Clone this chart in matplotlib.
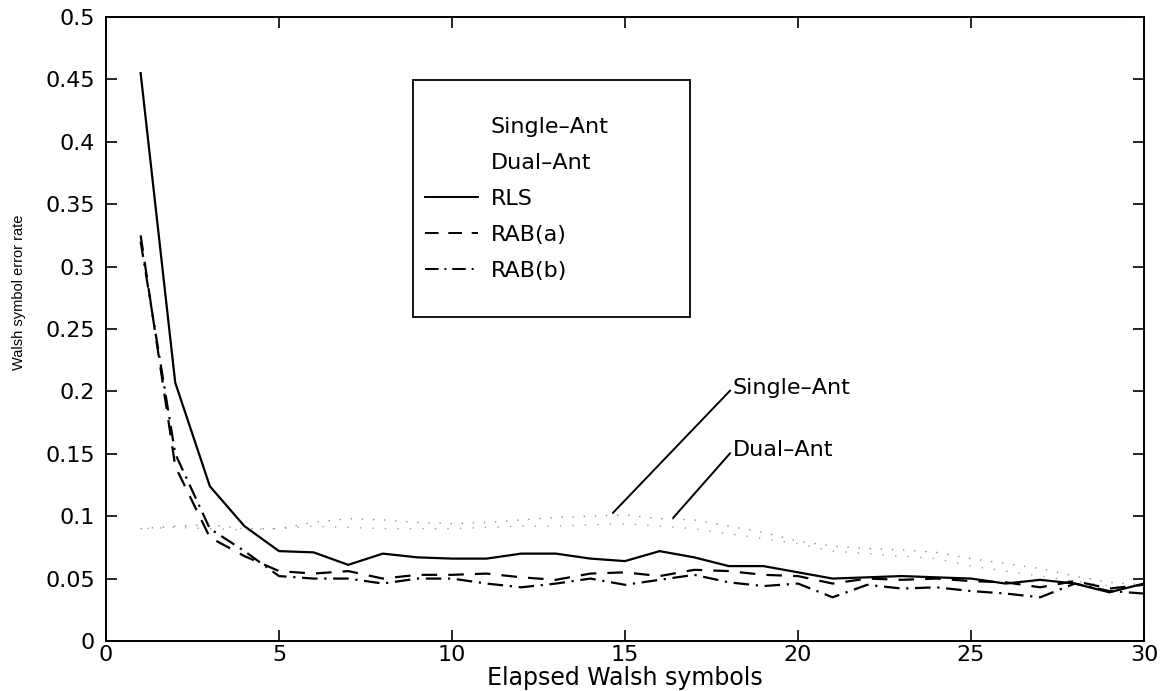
import numpy as np
import matplotlib.pyplot as plt
from matplotlib.lines import Line2D
from matplotlib.patches import Rectangle

# データ
symbols = np.arange(1, 31)

rls = [0.455, 0.207, 0.124, 0.092, 0.072, 0.071, 0.061, 0.070, 0.067, 0.066,
       0.066, 0.070, 0.070, 0.066, 0.064, 0.072, 0.067, 0.060, 0.060, 0.055,
       0.050, 0.051, 0.052, 0.051, 0.050, 0.046, 0.049, 0.046, 0.039, 0.046]

rab_a = [0.325, 0.140, 0.083, 0.068, 0.056, 0.054, 0.056, 0.050, 0.053, 0.053,
         0.054, 0.051, 0.049, 0.054, 0.055, 0.052, 0.057, 0.056, 0.053, 0.052,
         0.046, 0.050, 0.049, 0.050, 0.048, 0.047, 0.043, 0.048, 0.042, 0.045]

rab_b = [0.320, 0.150, 0.090, 0.072, 0.052, 0.050, 0.050, 0.046, 0.050, 0.050,
         0.046, 0.043, 0.046, 0.050, 0.045, 0.049, 0.053, 0.047, 0.044, 0.046,
         0.035, 0.045, 0.042, 0.043, 0.040, 0.038, 0.035, 0.046, 0.040, 0.038]

# かすれた点線 (Single-Ant / Dual-Ant)
faint_1 = [0.090, 0.092, 0.093, 0.090, 0.090, 0.095, 0.098, 0.097, 0.095, 0.094,
           0.095, 0.097, 0.099, 0.100, 0.101, 0.098, 0.097, 0.092, 0.087, 0.080,
           0.076, 0.074, 0.073, 0.071, 0.066, 0.062, 0.058, 0.052, 0.047, 0.045]
faint_2 = [0.090, 0.091, 0.090, 0.089, 0.090, 0.092, 0.091, 0.090, 0.090, 0.090,
           0.091, 0.092, 0.092, 0.093, 0.094, 0.092, 0.090, 0.086, 0.082, 0.078,
           0.072, 0.070, 0.068, 0.066, 0.060, 0.056, 0.052, 0.048, 0.044, 0.042]

xticks = [0, 5, 10, 15, 20, 25, 30]
yticks = [0, 0.05, 0.1, 0.15, 0.2, 0.25, 0.3, 0.35, 0.4, 0.45, 0.5]
ytick_labels = ['0', '0.05', '0.1', '0.15', '0.2', '0.25', '0.3', '0.35', '0.4', '0.45', '0.5']

plt.rcParams['font.family'] = ['DejaVu Sans']

fig = plt.figure(figsize=(11.64, 6.91), dpi=100)
ax = fig.add_axes([0.0911, 0.0724, 0.8917, 0.903])

ax.plot(symbols, faint_1, color='0.55', lw=1.0, linestyle=(0, (1, 7)))
ax.plot(symbols, faint_2, color='0.62', lw=1.0, linestyle=(4, (1, 8)))
ax.plot(symbols, rls, color='black', lw=1.6, linestyle='-')
ax.plot(symbols, rab_a, color='black', lw=1.6, linestyle=(0, (7, 5)))
ax.plot(symbols, rab_b, color='black', lw=1.6, linestyle=(0, (7, 3, 1, 3)))

ax.set_xlim(0, 30)
ax.set_ylim(0, 0.5)
ax.set_xticks(xticks)
ax.set_yticks(yticks)
ax.set_yticklabels(ytick_labels)
ax.tick_params(direction='in', top=True, right=True, length=8, width=1.2,
               labelsize=16)
ax.tick_params(axis='x', pad=3)
ax.tick_params(axis='y', pad=8)
for s in ax.spines.values():
    s.set_linewidth(1.4)

ax.set_xlabel('Elapsed Walsh symbols', fontsize=17)
ax.xaxis.set_label_coords(0.5, -0.04)
ax.set_ylabel('Walsh symbol error rate', fontsize=10.5, family=['Liberation Sans'])
ax.yaxis.set_label_coords(-0.077, 0.558)

# 凡例 (枠は手描き)
ax.add_patch(Rectangle((0.296, 0.519), 0.267, 0.38, transform=ax.transAxes,
                       facecolor='white', edgecolor='black', lw=1.3, zorder=4))
handles = [Line2D([], [], linestyle='none'),
           Line2D([], [], linestyle='none'),
           Line2D([], [], color='black', lw=1.4, linestyle='-'),
           Line2D([], [], color='black', lw=1.4, linestyle=(0, (7, 5))),
           Line2D([], [], color='black', lw=1.4, linestyle=(0, (7, 3, 1, 3)))]
labels = ['Single\u2013Ant', 'Dual\u2013Ant', 'RLS', 'RAB(a)', 'RAB(b)']
leg = ax.legend(handles, labels, loc='center left',
                bbox_to_anchor=(0.3073, 0.708), frameon=False,
                fontsize=16, handlelength=2.4, handletextpad=0.55,
                labelspacing=0.72, borderpad=0, borderaxespad=0)
leg.set_zorder(5)

# 注記
for txt, pt, ty in [('Single\u2013Ant', (14.65, 0.1026), 0.203),
                    ('Dual\u2013Ant', (16.39, 0.0986), 0.153)]:
    ax.annotate(txt, xy=pt, xytext=(18.12, ty),
                fontsize=16, va='center', ha='left',
                arrowprops=dict(arrowstyle='-', color='black', lw=1.4,
                                shrinkA=0, shrinkB=0, relpos=(0, 0.5)))

plt.savefig('out.png', dpi=100)
